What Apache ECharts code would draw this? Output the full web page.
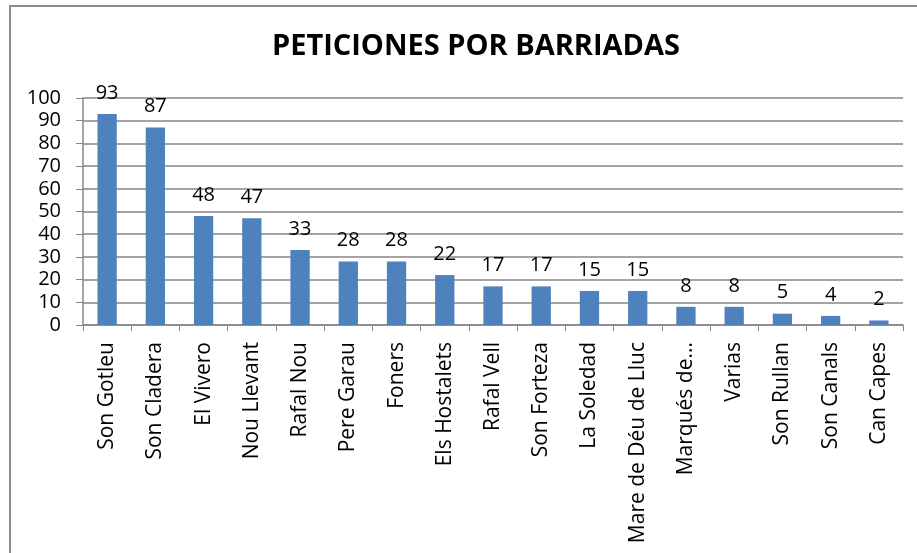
<!DOCTYPE html>
<html><head><meta charset="utf-8">
<script src="https://cdn.jsdelivr.net/npm/echarts@6/dist/echarts.min.js"></script>
<style>html,body{margin:0;padding:0;background:#fff}#c{width:917px;height:553px}</style>
</head><body><div id="c"></div>
<script>
const categories = ["Son Gotleu","Son Cladera","El Vivero","Nou Llevant","Rafal Nou","Pere Garau","Foners","Els Hostalets","Rafal Vell","Son Forteza","La Soledad","Mare de Déu de Lluc","Marqués de...","Varias","Son Rullan","Son Canals","Can Capes"];
const values = [93,87,48,47,33,28,28,22,17,17,15,15,8,8,5,4,2];
const titleText = "PETICIONES POR BARRIADAS";
const font = "'Open Sans', 'Liberation Sans', sans-serif";
const chart = echarts.init(document.getElementById('c'), null, {renderer:'canvas'});
chart.setOption({
  animation:false,
  title:{text:titleText,left:471,top:27,textAlign:'center',textStyle:{fontFamily:font,fontSize:29,fontWeight:'bold',color:'#000'}},
  graphic:[{type:'rect',shape:{x:10,y:6,width:1000,height:1000},style:{fill:'none',stroke:'#8c8c8c',lineWidth:2}}],
  grid:{left:83,top:98,right:14,height:227,containLabel:false},
  xAxis:{type:'category',data:categories,
    axisLine:{lineStyle:{color:'#868686',width:1.5}},
    axisTick:{show:true,length:6,lineStyle:{color:'#868686'}},
    axisLabel:{rotate:90,interval:0,fontFamily:font,fontSize:21,color:'#000',margin:17}},
  yAxis:{type:'value',min:0,max:100,interval:10,
    axisLine:{show:true,lineStyle:{color:'#868686',width:1.5}},
    axisTick:{show:true,length:7,lineStyle:{color:'#868686'}},
    splitLine:{lineStyle:{color:'#868686',width:1.5}},
    axisLabel:{fontFamily:font,fontSize:20,color:'#000',margin:22}},
  series:[{type:'bar',data:values,barWidth:'40%',
    itemStyle:{color:'#4f81bd'},
    label:{show:true,position:'top',distance:11,fontFamily:font,fontSize:20,color:'#000'}}]
});
</script></body></html>
